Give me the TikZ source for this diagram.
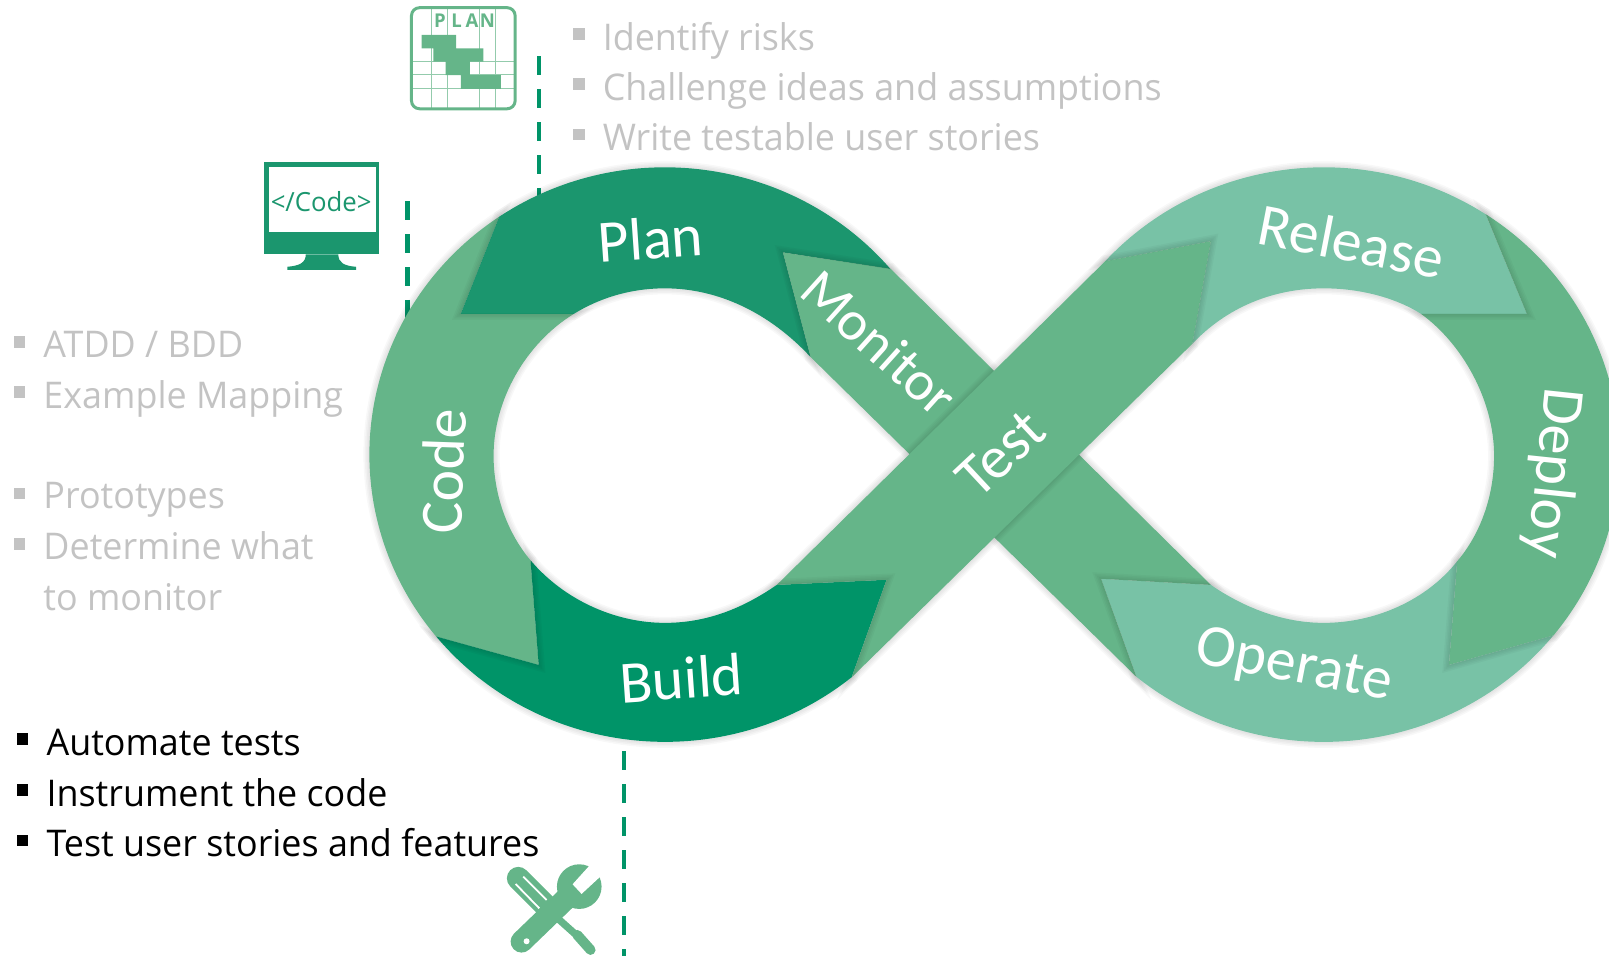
\documentclass[tikz,border=0pt]{standalone}
\usepackage{fontspec}
\setmainfont[FakeStretch=0.975]{Open Sans}
\newfontfamily\labelfont{Carlito}
\definecolor{plangreen}{RGB}{27,150,110}
\definecolor{buildgreen}{RGB}{0,148,104}
\definecolor{midgreen}{RGB}{101,181,137}
\definecolor{lightgreen}{RGB}{120,194,166}
\definecolor{textgray}{RGB}{195,195,195}
% Trozos del ocho
\newcommand{\pathplan}{(486.5,211.2) arc[start angle=235.9,end angle=319.8,x radius=288,y radius=280] -- (763,246) -- (790,348) .. controls (750,305) and (700,281) .. (648,281) .. controls (615,281) and (585,290) .. (559,306) -- (449,306) -- cycle}
\newcommand{\pathcode}{(486.5,211.2) arc[start angle=235.9,end angle=140.7,x radius=288,y radius=280] -- (525,648) -- (517,546) .. controls (495,520) and (481,483) .. (481,444) .. controls (481,390) and (512,335) .. (559,306) -- (449,306) -- cycle}
\newcommand{\pathbuild}{(425.1,620.3) arc[start angle=140.7,end angle=50.8,x radius=288,y radius=280] -- (864,565) -- (757,570) .. controls (725,592) and (690,607) .. (648,607) .. controls (600,607) and (550,585) .. (517,546) -- (525,648) -- cycle}
\newcommand{\pathtest}{(757,570) -- (1077,254.6) -- (1180,235) -- (1162,335) -- (830,660) -- (864,565) -- cycle}
\newcommand{\pathrelease}{(1077,254.6) arc[start angle=222.3,end angle=303.2,x radius=288,y radius=280] -- (1488,306) -- (1385,306) .. controls (1360,290) and (1325,281) .. (1290,281) .. controls (1240,281) and (1195,300) .. (1162,335) -- (1180,235) -- cycle}
\newcommand{\pathdeploy}{(1447.8,208.7) arc[start angle=303.2,end angle=399,x radius=288,y radius=280] -- (1412,648) -- (1420,547) .. controls (1443,520) and (1456,483) .. (1456,444) .. controls (1456,390) and (1425,335) .. (1385,306) -- (1488,306) -- cycle}
\newcommand{\pathoperate}{(1513.8,619.2) arc[start angle=39,end angle=129.3,x radius=288,y radius=280] -- (1073,564) -- (1180,570) .. controls (1212,592) and (1250,607) .. (1290,607) .. controls (1340,607) and (1390,585) .. (1420,547) -- (1412,648) -- cycle}
\newcommand{\pathmonitor}{(763,246) -- (868,262) -- (1180,570) -- (1073,564) -- (1107.5,659.7) -- (790,348) -- cycle}
% Sombra suave
\newcommand{\softedge}[1]{\foreach \w in {1.5,3,4.5,6} {\draw[black,opacity=0.028,line width=\w pt] #1;}}
\newcommand{\tipshade}[2]{\begin{scope}\path[clip] #2; \softedge{#1}\end{scope}}
\tikzset{
	listitem/.style={anchor=base west, inner sep=0pt, font=\fontsize{18.4}{22}\selectfont},
	graytext/.style={listitem, text=textgray},
	blacktext/.style={listitem, text=black},
	bulletmark/.style={inner sep=0pt, minimum size=5.8pt},
	graybullet/.style={bulletmark, fill=textgray},
	blackbullet/.style={bulletmark, fill=black},
	loopword/.style={text=white, inner sep=0pt, font=\labelfont\fontsize{30}{30}\selectfont},
	planletter/.style={text=midgreen, inner sep=0pt, font=\bfseries\fontsize{9.5}{9.5}\selectfont},
	dashline/.style={buildgreen, line width=2.15pt, dash pattern=on 9.5pt off 7pt},
	gridline/.style={midgreen!70, line width=0.5pt}
}
\begin{document}
\begin{tikzpicture}[x=0.5132pt, y=-0.5132pt]
		\useasboundingbox (0,0) rectangle (1568,932);
		\clip (0,0) rectangle (1568,932);
	% Lineas a trazos
		\coordinate (plantop) at (525,55);
		\coordinate (planbot) at (525,195);
		\coordinate (codetop) at (397,196);
		\coordinate (codebot) at (397,312);
		\coordinate (buildtop) at (608,732);
		\coordinate (buildbot) at (608,932);
		\draw[dashline] (plantop) -- (planbot);
		\draw[dashline] (codetop) -- (codebot);
		\draw[dashline] (buildtop) -- (buildbot);
	% Ocho
		% Borde difuminado
			\softedge{\pathplan}
			\softedge{\pathcode}
			\softedge{\pathbuild}
			\softedge{\pathtest}
			\softedge{\pathrelease}
			\softedge{\pathdeploy}
			\softedge{\pathoperate}
			\softedge{\pathmonitor}
		% Relleno
			\fill[midgreen] \pathcode;
			\fill[plangreen] \pathplan;
			\fill[buildgreen] \pathbuild;
			\fill[lightgreen] \pathrelease;
			\fill[midgreen] \pathdeploy;
			\fill[lightgreen] \pathoperate;
			\fill[midgreen] \pathmonitor;
		% Sombra de cada punta
			\tipshade{\pathtest}{\pathmonitor}
			\fill[midgreen] \pathtest;
			\tipshade{\pathplan}{\pathcode}
			\tipshade{\pathcode}{\pathbuild}
			\tipshade{\pathbuild}{\pathtest}
			\tipshade{\pathtest}{\pathrelease}
			\tipshade{\pathrelease}{\pathdeploy}
			\tipshade{\pathdeploy}{\pathoperate}
			\tipshade{\pathoperate}{\pathmonitor}
			\tipshade{\pathmonitor}{\pathplan}
	% Etiquetas del ocho
		\node[loopword, rotate=4] (planword) at (634,232) {Plan};
		\node[loopword, rotate=-42, font=\labelfont\fontsize{28}{28}\selectfont] (monitorword) at (857,334) {Monitor};
		\node[loopword, rotate=88] (codeword) at (432,459) {Code};
		\node[loopword, rotate=4] (buildword) at (664,661) {Build};
		\node[loopword, rotate=43] (testword) at (975,442) {Test};
		\node[loopword, rotate=-11] (releaseword) at (1317,235) {Release};
		\node[loopword, rotate=-96] (deployword) at (1513,461) {Deploy};
		\node[loopword, rotate=-11] (operateword) at (1261,650) {Operate};
	% Listas
		% Arriba
			\node[graybullet] (riskmark) at (564,33) {};
			\node[graybullet] (ideamark) at (564,82) {};
			\node[graybullet] (storymark) at (564,131) {};
			\node[graytext] (risktext) at (587,49) {Identify risks};
			\node[graytext] (ideatext) at (587,98) {Challenge ideas and assumptions};
			\node[graytext] (storytext) at (587,147) {Write testable user stories};
		% Izquierda
			\node[graybullet] (atddmark) at (19,333) {};
			\node[graybullet] (mapmark) at (19,382) {};
			\node[graybullet] (protomark) at (19,481) {};
			\node[graybullet] (whatmark) at (19,530) {};
			\node[graytext] (atddtext) at (42,348) {ATDD / BDD};
			\node[graytext] (maptext) at (42,398) {Example Mapping};
			\node[graytext] (prototext) at (42,496) {Prototypes};
			\node[graytext] (whattext) at (42,545) {Determine what};
			\node[graytext] (monitortext) at (42,595) {to monitor};
		% Abajo
			\node[blackbullet] (automark) at (22,720) {};
			\node[blackbullet] (instrmark) at (22,770) {};
			\node[blackbullet] (testmark) at (22,819) {};
			\node[blacktext] (autotext) at (45,736) {Automate tests};
			\node[blacktext] (instrtext) at (45,786) {Instrument the code};
			\node[blacktext] (testtext) at (45,835) {Test user stories and features};
	% Icono del plan
		\foreach \xgrid in {420.6,436,467,482.4} {\draw[gridline] (\xgrid,8) -- (\xgrid,105);}
		\foreach \ygrid in {60,73,86} {\draw[gridline] (402,\ygrid) -- (501,\ygrid);}
		\fill[midgreen] (410.9,34.1) -- (444.4,34.1) -- (444.4,47.1) -- (471,47.1) -- (471,60.1) -- (458,60.1) -- (458,73.1) -- (488.2,73.1) -- (488.2,86.7) -- (449.2,86.7) -- (449.2,73.1) -- (434.3,73.1) -- (434.3,60.1) -- (422.3,60.1) -- (422.3,47.1) -- (410.9,47.1) -- cycle;
		\draw[midgreen, line width=1.5pt, rounded corners=4pt] (401,7.5) rectangle (502,106);
		\node[planletter] (planp) at (428.8,20) {P};
		\node[planletter] (planl) at (445,20) {L};
		\node[planletter] (plana) at (460,20) {A};
		\node[planletter] (plann) at (475,20) {N};
	% Icono de la pantalla
		\fill[plangreen] (257.5,158) rectangle (369,228);
		\fill[white] (261.8,162.4) rectangle (366.1,226.4);
		\fill[plangreen] (257,226.4) rectangle (369.3,247.8);
		\fill[plangreen] (298,247.8) .. controls (298,256) and (292,259) .. (280,260) -- (280,263) -- (347,263) -- (347,260) .. controls (335,259) and (329.7,256) .. (329.7,247.8) -- cycle;
		\node[text=plangreen, inner sep=0pt, font=\fontsize{13.2}{13.2}\selectfont] (codetag) at (313,196) {</Code>};
	% Icono de las herramientas
		\begin{scope}[shift={(467.7,721.1)}, scale=0.3248]
			\draw[midgreen, line width=3.6pt, line cap=round] (205,510) -- (300,595);
			\draw[midgreen, line width=5pt, line cap=round] (292,585) -- (332,630);
			\draw[midgreen, line width=11.4pt, line cap=round] (115,415) -- (205,505);
			\draw[white, line width=0.9pt] (130,410) -- (200,480);
			\draw[white, line width=0.9pt] (107,432) -- (178,505);
			\draw[midgreen, line width=11pt, line cap=round] (125,605) -- (265,470);
			\fill[midgreen] (298,440) circle[radius=67];
			\fill[white] (335,370) -- (278,433) -- (305,462) -- (372,400) -- cycle;
			\fill[white] (140,604) circle[radius=9];
		\end{scope}
	\end{tikzpicture}
\end{document}
